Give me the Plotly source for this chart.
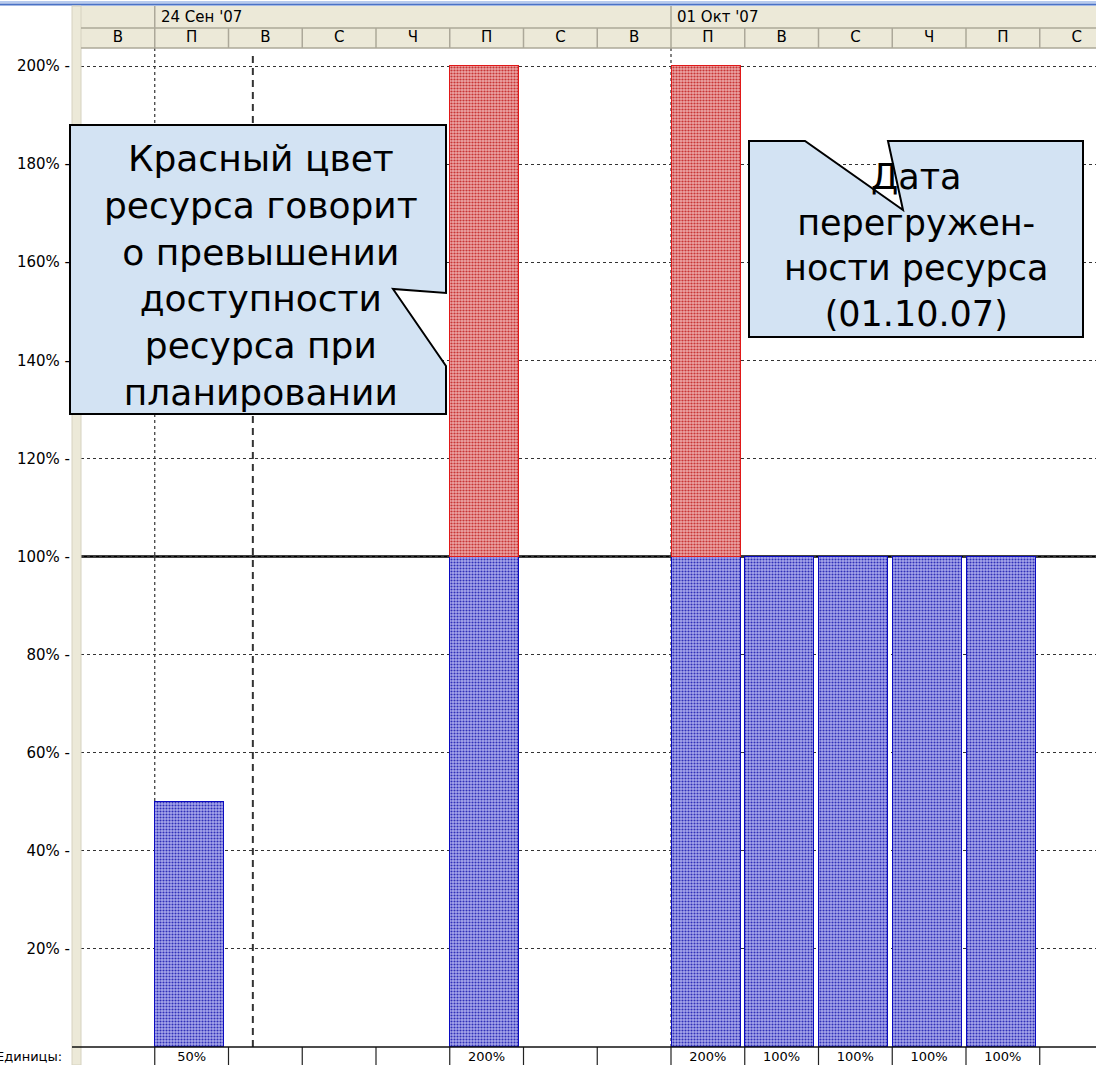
import plotly.graph_objects as go

# ---------------- data ----------------
days = ["В", "П", "В", "С", "Ч", "П", "С", "В", "П", "В", "С", "Ч", "П", "С"]
units = [0, 50, 0, 0, 0, 200, 0, 0, 200, 100, 100, 100, 100, 0]
within_capacity = [0, 50, 0, 0, 0, 100, 0, 0, 100, 100, 100, 100, 100, 0]
over_capacity = [0, 0, 0, 0, 0, 100, 0, 0, 100, 0, 0, 0, 0, 0]
capacity = 100
week_labels = ["24 Сен '07", "01 Окт '07"]
week_start_cols = [1, 8]
status_date_pos = 1.83
y_ticks = [20, 40, 60, 80, 100, 120, 140, 160, 180, 200]
y_tick_labels = ["20% -", "40% -", "60% -", "80% -", "100% -", "120% -", "140% -",
                 "160% -", "180% -", "200% -"]
row_label = "Единицы:"
note_left = "Красный цвет<br>ресурса говорит<br>о превышении<br>доступности<br>ресурса при<br>планировании"
note_right = "Дата<br>перегружен-<br>ности ресурса<br>(01.10.07)"

# ---------------- geometry helpers (pixels -> paper) ----------------
W, H = 1096, 1065
L, T, B = 81, 48, 1047
PW, PH = W - L, B - T


def fx(px):
    return (px - L) / PW


def fy(py):
    return (B - py) / PH


FONT = "DejaVu Sans"
x = list(range(len(days)))
idx = list(range(len(days)))

fig = go.Figure()

fig.add_trace(go.Bar(
    x=x, y=[v if v else None for v in within_capacity],
    width=0.935, offset=-0.49,
    marker=dict(color="#7474d6", line=dict(color="#0a0ac0", width=1.5),
                pattern=dict(shape=".", fgcolor="#3030b8", bgcolor="#a8a8ec",
                             size=3, solidity=0.4, fillmode="replace")),
    hoverinfo="skip", showlegend=False))
fig.add_trace(go.Bar(
    x=x, y=[v if v else None for v in over_capacity],
    width=0.935, offset=-0.49,
    marker=dict(color="#e07474", line=dict(color="#e01818", width=1.2),
                pattern=dict(shape=".", fgcolor="#c83636", bgcolor="#eca6a6",
                             size=3, solidity=0.42, fillmode="replace")),
    hoverinfo="skip", showlegend=False))
# carrier trace for the top (day letters) axis
fig.add_trace(go.Scatter(x=x, y=[None] * len(x), xaxis="x2", mode="markers",
                         hoverinfo="skip", showlegend=False))

shapes = []
# top window line
shapes.append(dict(type="line", xref="paper", yref="paper", x0=fx(0), x1=fx(W),
                   y0=fy(2), y1=fy(2), line=dict(color="#b8cbee", width=2), layer="below"))
shapes.append(dict(type="line", xref="paper", yref="paper", x0=fx(0), x1=fx(W),
                   y0=fy(4.5), y1=fy(4.5), line=dict(color="#4a72c6", width=2), layer="below"))
# header background
shapes.append(dict(type="rect", xref="paper", yref="paper", x0=fx(L), x1=fx(W),
                   y0=fy(T), y1=fy(6), fillcolor="#ece9d8", line=dict(width=0), layer="below"))
# left beige strip
shapes.append(dict(type="rect", xref="paper", yref="paper", x0=fx(72), x1=fx(L),
                   y0=fy(H), y1=fy(6), fillcolor="#ece9d8", line=dict(color="#d6d2c0", width=1),
                   layer="above"))
# header row lines
for yy in (28, T):
    shapes.append(dict(type="line", xref="paper", yref="paper", x0=fx(L), x1=fx(W),
                       y0=fy(yy), y1=fy(yy), line=dict(color="#aca899", width=1.5), layer="above"))
# header row 2 separators (all columns)
for i in range(1, len(days)):
    shapes.append(dict(type="line", xref="x", yref="paper", x0=i - 0.5, x1=i - 0.5,
                       y0=fy(T), y1=fy(28), line=dict(color="#aca899", width=1.5), layer="above"))
# header row 1 separators (weeks)
for c in week_start_cols:
    shapes.append(dict(type="line", xref="x", yref="paper", x0=c - 0.5, x1=c - 0.5,
                       y0=fy(28), y1=fy(6), line=dict(color="#aca899", width=1.5), layer="above"))
# week boundary dotted lines in plot
for c in week_start_cols:
    shapes.append(dict(type="line", xref="x", yref="paper", x0=c - 0.5, x1=c - 0.5,
                       y0=0, y1=1, line=dict(color="#333333", width=1.2, dash="dot"), layer="between"))
# capacity line
shapes.append(dict(type="line", xref="paper", yref="y", x0=0, x1=1, y0=capacity, y1=capacity,
                   line=dict(color="#000000", width=2.5), layer="between"))
# status date dashed line
shapes.append(dict(type="line", xref="x", yref="paper", x0=status_date_pos, x1=status_date_pos,
                   y0=0, y1=fy(52), line=dict(color="#333333", width=2, dash="7px,5px"),
                   layer="above"))
# bottom row separators
for i in range(1, len(days)):
    shapes.append(dict(type="line", xref="x", yref="paper", x0=i - 0.5, x1=i - 0.5,
                       y0=fy(H + 2), y1=0, line=dict(color="#222222", width=1.2), layer="above"))
shapes.append(dict(type="line", xref="paper", yref="paper", x0=fx(72), x1=fx(W),
                   y0=0, y1=0, line=dict(color="#111111", width=1.5), layer="above"))


def poly(points):
    return "M " + " L ".join(f"{fx(a):.5f},{fy(b):.5f}" for a, b in points) + " Z"


CALLOUT = "#d3e3f3"
# left callout with inward notch
shapes.append(dict(type="path", xref="paper", yref="paper",
                   path=poly([(70, 125), (446, 125), (446, 293), (393, 289), (446, 366),
                              (446, 414), (70, 414)]),
                   fillcolor=CALLOUT, line=dict(color="#000000", width=2), layer="above"))
# right callout with notch on top edge
shapes.append(dict(type="path", xref="paper", yref="paper",
                   path=poly([(749, 141), (805, 141), (903, 210), (888, 141), (1083, 141),
                              (1083, 337), (749, 337)]),
                   fillcolor=CALLOUT, line=dict(color="#000000", width=2), layer="above"))

annotations = []
for lbl, c in zip(week_labels, week_start_cols):
    annotations.append(dict(text=lbl, xref="x", yref="paper", x=c - 0.5, y=fy(17),
                            xanchor="left", yanchor="middle", xshift=4, showarrow=False,
                            font=dict(family=FONT, size=15, color="#000000")))
annotations.append(dict(text=row_label, xref="paper", yref="paper", x=fx(64), y=fy(1056),
                        xanchor="right", yanchor="middle", showarrow=False,
                        font=dict(family=FONT, size=13, color="#000000")))
annotations.append(dict(text=note_left, xref="paper", yref="paper", x=fx(261), y=fy(275),
                        xanchor="center", yanchor="middle", showarrow=False, align="center",
                        font=dict(family=FONT, size=36, color="#000000")))
annotations.append(dict(text=note_right, xref="paper", yref="paper", x=fx(916), y=fy(245),
                        xanchor="center", yanchor="middle", showarrow=False, align="center",
                        font=dict(family=FONT, size=35, color="#000000")))

fig.update_layout(
    width=W, height=H,
    margin=dict(l=L, r=0, t=T, b=H - B, pad=0, autoexpand=False),
    paper_bgcolor="#ffffff", plot_bgcolor="#ffffff",
    barmode="stack", bargap=0,
    showlegend=False,
    shapes=shapes, annotations=annotations,
    xaxis=dict(range=[-0.5, (W - L) / ((1040 - 155) / 12) - 0.5],
               tickmode="array", tickvals=idx,
               ticktext=[f"{u}%" if u else "" for u in units],
               showgrid=False, zeroline=False, showline=False, ticks="",
               ticklabelstandoff=0, automargin=False,
               tickfont=dict(family=FONT, size=13, color="#000000"), fixedrange=True),
    xaxis2=dict(overlaying="x", matches="x", side="top", anchor="y",
                tickmode="array", tickvals=idx, ticktext=days,
                showgrid=False, zeroline=False, showline=False, ticks="",
                ticklabelstandoff=2, automargin=False,
                tickfont=dict(family=FONT, size=15, color="#000000")),
    yaxis=dict(range=[0, (B - T) / ((1047 - 66) / 200)],
               tickmode="array", tickvals=y_ticks, ticktext=y_tick_labels,
               showgrid=True, griddash="dot", gridcolor="#333333", gridwidth=1,
               zeroline=False, showline=False, ticks="",
               ticklabelstandoff=10, automargin=False,
               tickfont=dict(family=FONT, size=15, color="#000000"), fixedrange=True),
)

fig.write_html("out.html", config={"displayModeBar": False},
               post_script="document.body.style.margin='0';document.body.style.overflow='hidden';")
